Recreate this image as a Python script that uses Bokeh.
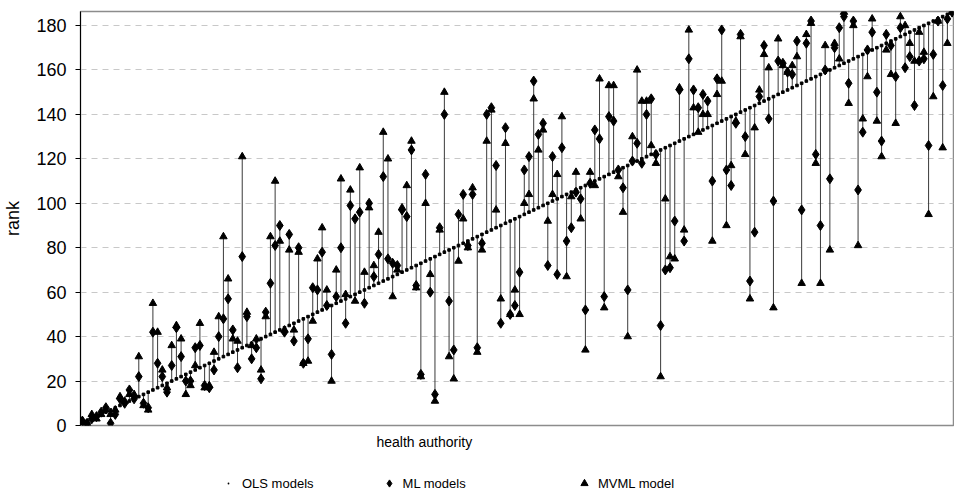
from bokeh.plotting import figure
from bokeh.models import Legend, LegendItem, Range1d, FixedTicker, Title
from bokeh.layouts import column
from bokeh.embed import file_html
from bokeh.resources import INLINE

ml = [2, 1, 3, 4, 6, 8, 1, 5, 12, 10, 16, 12, 22, 10, 8, 42, 28, 22, 15, 27, 44, 31, 20,
      20, 35, 36, 18, 17, 25, 40, 48, 57, 43, 26, 76, 49, 30, 35, 21, 51, 64, 81, 90, 42, 86, 38, 80,
      28, 39, 62, 61, 78, 54, 32, 58, 80, 46, 99, 93, 96, 55, 100, 67, 77, 112, 75, 73, 72, 97, 94,
      124, 63, 23, 113, 60, 14, 89, 140, 56, 34, 95, 104, 81, 104, 35, 82, 140, 143, 117, 46, 134, 50, 54,
      69, 115, 121, 155, 131, 136, 72, 121, 68, 125, 83, 89, 105, 102, 52, 109, 133, 129, 58, 139, 137, 115, 107, 61,
      119, 127, 118, 140, 147, 122, 45, 70, 71, 92, 151, 83, 165, 151, 143, 149, 146, 110, 156, 178, 115, 108, 136,
      176, 130, 65, 87, 148, 171, 138, 101, 164, 163, 159, 158, 173, 97, 172, 182, 122, 90, 160, 111, 170, 179, 184, 154,
      182, 106, 132, 169, 177, 150, 128, 176, 171, 157, 179, 161, 166, 144, 164, 165, 126, 167, 182, 153, 183, 186]
mvml = [2, 1, 5, 3, 5, 7, 5, 7, 13, 11, 14, 14, 31, 9, 7, 55, 42, 25, 17, 36, 45, 39, 14,
        18, 27, 46, 17, 18, 33, 49, 85, 66, 39, 38, 121, 51, 36, 39, 25, 49, 85, 110, 83, 43, 79, 43, 78,
        28, 29, 47, 75, 89, 61, 20, 70, 111, 59, 106, 56, 116, 69, 98, 72, 87, 132, 120, 58, 70, 98, 108,
        128, 62, 22, 100, 68, 11, 88, 150, 31, 21, 74, 93, 80, 107, 33, 79, 128, 142, 97, 57, 127, 50, 61,
        50, 100, 104, 147, 124, 133, 92, 104, 113, 139, 67, 103, 114, 93, 34, 114, 108, 156, 53, 153, 153, 112, 96, 40,
        130, 160, 146, 146, 126, 118, 22, 102, 76, 75, 152, 88, 178, 143, 132, 140, 140, 83, 149, 155, 90, 117, 137,
        175, 122, 57, 134, 151, 167, 161, 53, 174, 162, 159, 162, 166, 64, 176, 181, 118, 64, 171, 79, 172, 165, 186, 145,
        180, 81, 138, 157, 183, 137, 121, 169, 158, 136, 184, 180, 172, 164, 177, 168, 95, 148, 182, 125, 172, 186]
n = len(ml)
idx = list(range(1, n + 1))
ols = list(range(1, n + 1))
y_ticks = [0, 20, 40, 60, 80, 100, 120, 140, 160, 180]
series_names = ["OLS models", "ML models", "MVML model"]

lo = [min(a, b, c) for a, b, c in zip(ml, mvml, ols)]
hi = [max(a, b, c) for a, b, c in zip(ml, mvml, ols)]

p = figure(width=954, height=455, output_backend="svg", toolbar_location=None,
           x_range=Range1d(0.6, n + 0.3), y_range=Range1d(0, 186.3),
           min_border_left=80, min_border_right=1, min_border_top=11, min_border_bottom=29)
p.background_fill_color = "white"
p.border_fill_color = "white"
p.outline_line_color = "#8c8c8c"
p.outline_line_width = 1.5

p.segment(x0=idx, y0=lo, x1=idx, y1=hi, line_color="#3a3a3a", line_width=1)
r_ols = p.scatter(idx, ols, marker="square", size=2.6, color="black")
r_ml = p.scatter(idx, ml, marker="diamond", size=10, color="black")
r_mv = p.scatter(idx, mvml, marker="triangle", size=7.5, color="black")

p.xaxis.visible = False

p.yaxis.ticker = FixedTicker(ticks=y_ticks)
p.yaxis.minor_tick_line_color = None
p.yaxis.major_tick_in = 0
p.yaxis.major_tick_out = 5
p.yaxis.major_label_standoff = 9
p.yaxis.axis_line_color = "black"
p.yaxis.major_tick_line_color = "black"
p.yaxis.major_label_text_font = "Liberation Sans"
p.yaxis.major_label_text_font_size = "18px"
p.yaxis.major_label_text_color = "black"
p.yaxis.axis_label = "rank"
p.yaxis.axis_label_text_font = "Liberation Sans"
p.yaxis.axis_label_text_font_size = "18px"
p.yaxis.axis_label_text_font_style = "normal"
p.yaxis.axis_label_text_color = "black"
p.yaxis.axis_label_standoff = 10

p.xgrid.grid_line_color = None
p.ygrid.grid_line_color = "#c8c8c8"
p.ygrid.grid_line_dash = "6 5"
p.ygrid.ticker = FixedTicker(ticks=y_ticks[1:])

xlab = Title(text="health authority", align="left", offset=296, standoff=12,
             text_font="Liberation Sans", text_font_size="14px", text_font_style="normal",
             text_color="black")
p.add_layout(xlab, "below")

# legend strip below the chart (its ranges keep the sample glyphs out of view)
q = figure(width=954, height=42, output_backend="svg", toolbar_location=None,
           x_range=Range1d(1000, 1954), y_range=Range1d(1000, 1042),
           x_axis_type=None, y_axis_type=None,
           min_border_left=0, min_border_right=0, min_border_top=0, min_border_bottom=0)
q.outline_line_color = None
q.background_fill_alpha = 0
q.xgrid.grid_line_color = None
q.ygrid.grid_line_color = None
l_ols = q.scatter(idx[:1], ols[:1], marker="dot", size=10, color="black", line_width=1.6)
l_ml = q.scatter(idx[:1], ml[:1], marker="diamond", size=10, color="black")
l_mv = q.scatter(idx[:1], mvml[:1], marker="triangle", size=7.5, color="black")

pad = "\u00a0" * 12
legend = Legend(items=[LegendItem(label=series_names[0], renderers=[l_ols]),
                       LegendItem(label=series_names[1] + pad, renderers=[l_ml]),
                       LegendItem(label=series_names[2], renderers=[l_mv])],
                location=(139, 5), orientation="horizontal", padding=0, margin=0,
                spacing=66, border_line_color=None, background_fill_alpha=0,
                glyph_width=18, glyph_height=18, label_standoff=5,
                label_text_font="Liberation Sans", label_text_font_size="13px",
                label_text_color="black", label_height=16)
q.add_layout(legend, "center")

open("out.html", "w").write(file_html(column(p, q, spacing=0), INLINE))
